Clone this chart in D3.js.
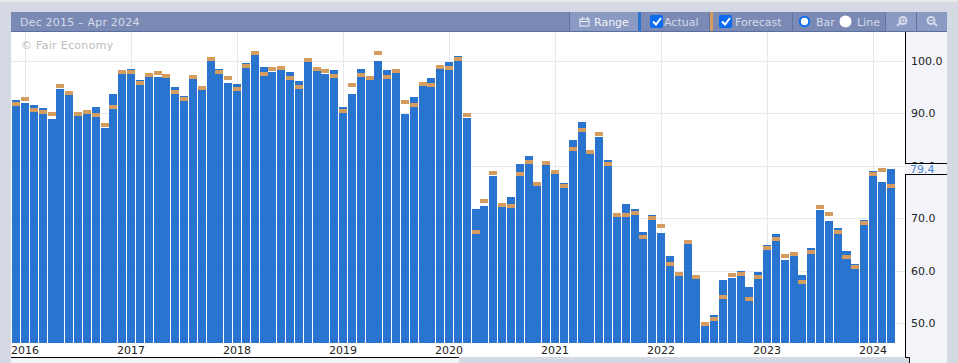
<!DOCTYPE html>
<html>
<head>
<meta charset="utf-8">
<script src="https://cdn.jsdelivr.net/npm/d3@7"></script>
<style>
  html, body { margin: 0; padding: 0; background: #d5d9e3; overflow: hidden; }
  svg { display: block; font-family: "DejaVu Sans", sans-serif; }
</style>
</head>
<body>
<svg id="chart" width="958" height="363"></svg>
<script>
// monthly data, Dec 2015 to Mar 2024
const months = d3.range(100).map(i => new Date(2015, 11 + i, 1));

const actual = [
  92.6, 92.0, 91.6, 91.0, 88.9, 94.7, 93.5, 89.5, 89.9, 91.2,
  87.2, 93.7, 97.5, 98.5, 96.4, 96.9, 96.9, 96.8, 95.0, 93.3,
  96.6, 94.5, 100.0, 98.5, 95.8, 95.6, 99.6, 101.1, 98.9, 97.9,
  98.3, 97.9, 96.2, 99.8, 98.1, 97.5, 98.3, 91.2, 93.7, 98.5,
  96.4, 100.0, 98.3, 97.7, 89.9, 93.1, 95.2, 96.8, 98.5, 99.8,
  101.0, 89.1, 71.8, 72.3, 78.1, 72.1, 74.0, 80.3, 81.9, 76.1,
  80.2, 78.4, 76.7, 84.9, 88.4, 82.3, 85.5, 81.1, 70.2, 72.7,
  71.8, 67.4, 70.6, 67.2, 62.8, 59.0, 65.1, 58.4, 49.4, 51.5,
  58.2, 58.6, 59.9, 56.9, 59.7, 64.9, 67.0, 62.0, 62.8, 59.2,
  64.3, 71.6, 69.5, 68.1, 63.7, 61.3, 69.7, 79.0, 76.9, 79.4
];

const forecast = [
  91.8, 92.7, 90.6, 90.3, 89.9, 95.2, 93.9, 89.9, 90.3, 89.7,
  87.8, 91.2, 97.9, 97.9, 95.8, 97.3, 97.7, 97.1, 94.1, 92.7,
  96.9, 94.8, 100.4, 97.9, 96.8, 94.7, 99.0, 101.5, 97.5, 98.5,
  98.7, 96.8, 95.0, 100.2, 98.5, 98.1, 97.1, 90.5, 95.4, 97.3,
  96.8, 101.5, 96.9, 98.1, 92.2, 91.6, 95.6, 95.4, 98.9, 98.7,
  100.4, 89.7, 67.4, 73.3, 78.6, 72.5, 72.3, 78.4, 80.7, 76.5,
  80.5, 78.8, 76.1, 83.2, 86.8, 82.6, 86.1, 80.3, 70.6, 70.6,
  71.0, 66.4, 70.0, 68.5, 61.3, 59.4, 65.5, 58.8, 49.8, 50.8,
  55.0, 59.2, 59.4, 54.6, 58.8, 64.3, 66.0, 62.8, 63.2, 57.8,
  63.5, 72.1, 70.8, 67.4, 62.6, 60.7, 69.1, 78.4, 79.2, 76.1
];

const yTicks = [100, 90, 80, 70, 60, 50];
const yearLabels = [2016, 2017, 2018, 2019, 2020, 2021, 2022, 2023, 2024];

const svg = d3.select('#chart');

// panel sizes
const left = 11, right = 905, panelRight = 947;
const headTop = 12, headBottom = 32, plotBottom = 357, barBottom = 343;
const panelColor = '#f3f4f9';

const x = d3.scaleBand()
  .domain(months)
  .range([11.8, 895.1])
  .paddingInner(0.09)
  .paddingOuter(0.045);

const y = d3.scaleLinear()
  .domain([50, 100])
  .range([323, 61]);

const monthX = d => x(d) + x.bandwidth() / 2;

// backgrounds
svg.append('rect').attr('width', 958).attr('height', 2).attr('fill', '#e8e8e8');
svg.append('rect').attr('x', left).attr('y', headBottom)
  .attr('width', right - left).attr('height', plotBottom - headBottom).attr('fill', '#fff');
svg.append('rect').attr('x', right).attr('y', headBottom)
  .attr('width', panelRight - right).attr('height', plotBottom - headBottom).attr('fill', panelColor);
svg.append('rect').attr('x', 909).attr('y', plotBottom)
  .attr('width', panelRight - 909).attr('height', 6).attr('fill', panelColor);
svg.append('rect').attr('x', left).attr('y', plotBottom)
  .attr('width', 459 - left).attr('height', 6).attr('fill', panelColor);

// gridlines
svg.append('g').selectAll('line').data(yTicks).enter().append('line')
  .attr('x1', left).attr('x2', right)
  .attr('y1', d => Math.round(y(d)) + 0.5).attr('y2', d => Math.round(y(d)) + 0.5)
  .attr('stroke', '#e8e9f0');

svg.append('g').selectAll('line').data(yearLabels).enter().append('line')
  .attr('x1', d => Math.round(monthX(new Date(d, 0, 1))) + 0.5)
  .attr('x2', d => Math.round(monthX(new Date(d, 0, 1))) + 0.5)
  .attr('y1', headBottom).attr('y2', barBottom)
  .attr('stroke', '#e8e9f0');

svg.append('text').attr('x', 21).attr('y', 49)
  .attr('font-size', 11).attr('letter-spacing', 0.3).attr('fill', '#bcbcbc').text('© Fair Economy');

// bars
svg.append('g').selectAll('rect').data(months).enter().append('rect')
  .attr('x', d => Math.round(x(d)))
  .attr('width', d => Math.round(x(d) + x.bandwidth()) - Math.round(x(d)))
  .attr('y', (d, i) => Math.round(y(actual[i])))
  .attr('height', (d, i) => barBottom - Math.round(y(actual[i])))
  .attr('fill', '#2874ce');

// forecast markers
svg.append('g').selectAll('rect').data(months).enter().append('rect')
  .attr('x', d => Math.round(x(d)))
  .attr('width', d => Math.round(x(d) + x.bandwidth()) - Math.round(x(d)))
  .attr('y', (d, i) => Math.round(y(forecast[i])) - 2)
  .attr('height', 4)
  .attr('fill', '#d49c5e');

// x axis labels
svg.append('g').selectAll('text').data(yearLabels).enter().append('text')
  .attr('x', d => monthX(new Date(d, 0, 1)))
  .attr('y', 354)
  .attr('text-anchor', 'middle')
  .attr('font-size', 11)
  .attr('fill', '#222')
  .text(d => d);

// y axis labels
svg.append('g').selectAll('text').data(yTicks).enter().append('text')
  .attr('x', 911)
  .attr('y', d => y(d) + 4)
  .attr('font-size', 11)
  .attr('fill', '#222')
  .text(d => d.toFixed(1));

// axis lines, the bottom one stops halfway and the right one steps out at the foot
svg.append('path')
  .attr('d', `M${right + 0.5},${headBottom} V${plotBottom + 0.5} H909.5 V363`)
  .attr('fill', 'none').attr('stroke', '#000');
svg.append('line').attr('x1', left).attr('x2', 459)
  .attr('y1', plotBottom + 0.5).attr('y2', plotBottom + 0.5).attr('stroke', '#000');

// latest value box, open on both sides
const last = actual[actual.length - 1];
const boxTop = Math.round(y(last)) - 5.5;
svg.append('rect').attr('x', right).attr('y', boxTop)
  .attr('width', panelRight - right).attr('height', 11).attr('fill', panelColor);
svg.selectAll('.boxline').data([boxTop, boxTop + 11]).enter().append('line')
  .attr('x1', right).attr('x2', panelRight)
  .attr('y1', d => d).attr('y2', d => d).attr('stroke', '#000');
svg.append('text').attr('x', 910).attr('y', y(last) + 4)
  .attr('font-size', 11).attr('fill', '#4a86d8').text(last.toFixed(1));

// header bar
const head = svg.append('g');
head.append('rect').attr('x', left).attr('y', headTop)
  .attr('width', panelRight - left).attr('height', headBottom - headTop).attr('fill', '#7a8ab5');
head.append('rect').attr('x', left).attr('y', headBottom - 1)
  .attr('width', panelRight - left).attr('height', 1).attr('fill', '#5b6f9f');

const buttons = [[569, 638], [885, 916], [917, 947]];
head.selectAll('.btn').data(buttons).enter().append('rect')
  .attr('x', d => d[0]).attr('y', headTop)
  .attr('width', d => d[1] - d[0]).attr('height', 19).attr('fill', '#8b9ac2');

head.selectAll('.sep').data([569, 709, 792, 885, 916]).enter().append('rect')
  .attr('x', d => d).attr('y', headTop).attr('width', 1).attr('height', 19).attr('fill', '#5f73a3');

head.append('rect').attr('x', 638).attr('y', headTop).attr('width', 3).attr('height', 19).attr('fill', '#2874ce');
head.append('rect').attr('x', 710).attr('y', headTop).attr('width', 3).attr('height', 19).attr('fill', '#d49c5e');

const headText = (tx, s, col) => head.append('text').attr('x', tx).attr('y', 26)
  .attr('font-size', 11).attr('fill', col || '#d5dbea').text(s);

headText(20, 'Dec 2015 – Apr 2024').attr('letter-spacing', 0.2);
headText(594, 'Range', '#f0f2f8');
headText(664, 'Actual');
headText(735, 'Forecast');
headText(816, 'Bar');
headText(857, 'Line');

// calendar icon
head.append('rect').attr('x', 580).attr('y', 19).attr('width', 9).attr('height', 7)
  .attr('fill', 'none').attr('stroke', '#f0f2f8');
head.append('line').attr('x1', 580).attr('x2', 589).attr('y1', 21.5).attr('y2', 21.5).attr('stroke', '#f0f2f8');
head.selectAll('.tick').data([582, 587]).enter().append('line')
  .attr('x1', d => d + 0.5).attr('x2', d => d + 0.5).attr('y1', 17).attr('y2', 20).attr('stroke', '#f0f2f8');

// checkboxes
[651, 720].forEach(cx => {
  head.append('rect').attr('x', cx - 1).attr('y', 15).attr('width', 13).attr('height', 13)
    .attr('rx', 2).attr('fill', '#0b6bf0');
  head.append('path').attr('d', `M${cx + 2},21.5 l3,3 l5,-6.5`)
    .attr('fill', 'none').attr('stroke', '#fff').attr('stroke-width', 2);
});

// radio buttons
head.append('circle').attr('cx', 804.5).attr('cy', 21.5).attr('r', 4.7)
  .attr('fill', '#fff').attr('stroke', '#0b6bf0').attr('stroke-width', 2);
head.append('circle').attr('cx', 845.5).attr('cy', 21.5).attr('r', 6).attr('fill', '#fff');

// zoom icons: dir is the side the handle points to
const lens = (cx, dir, mark) => {
  head.append('circle').attr('cx', cx).attr('cy', 20.5).attr('r', 3.5)
    .attr('fill', 'none').attr('stroke', '#d5dbea').attr('stroke-width', 2);
  head.append('line').attr('x1', cx + dir * 3).attr('x2', cx + dir * 6).attr('y1', 23).attr('y2', 26)
    .attr('stroke', '#d5dbea').attr('stroke-width', 2);
  head.append('path').attr('d', mark).attr('stroke', '#d5dbea');
};
lens(903, -1, 'M901,20.5 h4 M903,18.5 v4');
lens(931, 1, 'M929,20.5 h4');
</script>
</body>
</html>
